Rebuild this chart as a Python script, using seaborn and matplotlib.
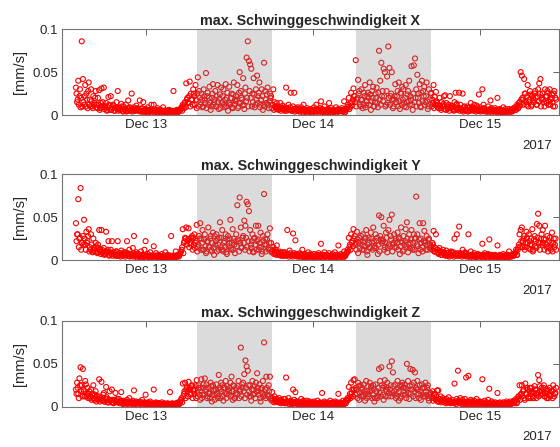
import matplotlib
matplotlib.use("Agg")
import matplotlib.pyplot as plt
import matplotlib.dates as mdates
import numpy as np
import pandas as pd
import seaborn as sns

# logger writes one max value every 5 minutes; rows below hold the
# samples at :00, :10, ... and the "mid" rows those at :05, :15, ...
start = "2017-12-12 14:00"
start_mid = "2017-12-12 14:05"
step = "10min"

# values in 0.001 mm/s, one row per hour, Dec 12 14h .. Dec 15 10h
vx_rows = [
    [32, 15, 40, 22, 9, 86], [42, 12, 35, 25, 8, 38], [18, 30, 10, 22, 14, 28],
    [12, 20, 29, 8, 31, 15], [32, 9, 14, 6, 21, 11], [22, 7, 12, 5, 9, 15],
    [28, 8, 6, 13, 5, 10], [7, 12, 5, 17, 8, 6], [25, 6, 9, 5, 11, 7],
    [6, 17, 5, 8, 15, 4],
    # Dec 13
    [7, 5, 9, 4, 6, 12], [5, 12, 6, 4, 8, 5], [4, 6, 5, 9, 4, 5],
    [5, 4, 6, 4, 5, 4], [28, 4, 5, 6, 4, 5], [6, 9, 12, 8, 15, 37],
    [20, 14, 39, 25, 18, 30], [22, 35, 8, 44, 28, 12], [25, 9, 30, 18, 49, 22],
    [12, 33, 6, 20, 36, 15], [28, 10, 35, 7, 24, 32], [15, 30, 9, 36, 20, 5],
    [33, 12, 25, 8, 38, 18], [22, 35, 10, 50, 28, 18], [43, 7, 32, 67, 86, 63],
    [59, 54, 25, 43, 9, 30], [46, 22, 38, 12, 30, 6], [61, 28, 14, 32, 8, 25],
    [22, 12, 30, 15, 9, 14], [10, 7, 14, 8, 11, 6], [9, 32, 7, 12, 6, 26],
    [6, 10, 26, 7, 5, 9], [7, 5, 9, 6, 12, 5], [5, 8, 6, 4, 7, 5],
    # Dec 14
    [6, 9, 5, 12, 7, 5], [8, 16, 7, 4, 10, 6], [5, 7, 14, 5, 8, 4],
    [6, 4, 9, 5, 7, 5], [5, 8, 6, 16, 4, 7], [12, 20, 9, 26, 15, 31],
    [22, 64, 18, 41, 28, 10], [30, 8, 26, 35, 12, 22], [20, 38, 6, 28, 33, 10],
    [25, 32, 9, 75, 40, 61], [28, 54, 50, 12, 45, 80], [55, 22, 50, 8, 18, 36],
    [15, 28, 38, 7, 25, 33], [30, 10, 35, 15, 28, 40], [22, 57, 6, 58, 66, 30],
    [47, 25, 36, 9, 40, 28], [33, 15, 38, 7, 30, 12], [26, 18, 35, 21, 27, 14],
    [12, 20, 8, 15, 11, 22], [23, 14, 7, 12, 22, 8], [10, 6, 15, 26, 13, 7],
    [26, 12, 6, 25, 9, 5], [7, 10, 5, 9, 14, 6], [8, 12, 6, 11, 5, 24],
    # Dec 15
    [9, 6, 30, 12, 7, 5], [6, 10, 5, 17, 8, 6], [5, 8, 6, 20, 4, 7],
    [6, 4, 9, 5, 7, 4], [5, 7, 4, 6, 5, 8], [9, 6, 12, 8, 15, 50],
    [46, 18, 42, 25, 12, 35], [15, 28, 10, 22, 18, 25], [20, 12, 30, 37, 42, 18],
    [25, 15, 30, 22, 28, 12], [30, 18, 24, 10, 28, 20],
]
vx_mid_rows = [
    [25, 18, 12, 30, 20, 10], [15, 22, 10, 18, 28, 12], [10, 16, 8, 12, 20, 9],
    [8, 12, 6, 14, 9, 11], [7, 10, 5, 9, 12, 6], [6, 9, 11, 5, 8, 7],
    [5, 8, 6, 10, 4, 7], [6, 4, 8, 5, 9, 5], [4, 7, 5, 6, 8, 5],
    [5, 4, 7, 5, 3, 6],
    # Dec 13
    [4, 6, 3, 5, 4, 5], [5, 3, 4, 6, 3, 4], [3, 5, 4, 3, 5, 4],
    [4, 3, 5, 4, 3, 5], [3, 5, 4, 3, 4, 6], [8, 5, 10, 14, 9, 18],
    [15, 22, 10, 18, 12, 25], [12, 18, 25, 10, 20, 15], [18, 10, 22, 14, 8, 26],
    [20, 14, 10, 25, 12, 18], [10, 22, 15, 19, 8, 14], [22, 12, 18, 10, 26, 14],
    [14, 20, 9, 24, 12, 16], [18, 8, 26, 14, 20, 11], [12, 25, 16, 20, 10, 28],
    [20, 10, 15, 24, 12, 18], [14, 26, 9, 18, 22, 12], [10, 18, 24, 12, 16, 20],
    [8, 12, 6, 10, 7, 9], [6, 9, 5, 7, 8, 5], [7, 5, 8, 6, 9, 5],
    [5, 7, 4, 8, 6, 5], [4, 6, 5, 3, 7, 4], [5, 3, 6, 4, 5, 3],
    # Dec 14
    [4, 6, 3, 5, 4, 6], [5, 3, 6, 4, 5, 3], [3, 6, 4, 5, 3, 6],
    [4, 5, 3, 6, 4, 5], [6, 4, 5, 3, 6, 9], [10, 7, 14, 11, 18, 22],
    [15, 10, 20, 25, 12, 18], [18, 12, 22, 9, 16, 26], [12, 24, 16, 20, 10, 15],
    [20, 14, 26, 18, 12, 22], [16, 22, 10, 28, 14, 20], [12, 25, 18, 10, 22, 15],
    [22, 10, 16, 26, 12, 18], [14, 20, 9, 24, 16, 12], [18, 12, 25, 15, 20, 10],
    [20, 14, 10, 26, 16, 22], [12, 22, 16, 10, 18, 25], [10, 14, 8, 12, 16, 9],
    [8, 11, 6, 10, 13, 7], [6, 10, 8, 5, 9, 11], [7, 5, 9, 12, 6, 8],
    [5, 8, 6, 4, 10, 6], [6, 4, 8, 5, 7, 9], [5, 7, 4, 9, 6, 5],
    # Dec 15
    [4, 7, 5, 8, 4, 6], [5, 3, 7, 4, 6, 5], [3, 5, 4, 6, 3, 4],
    [4, 3, 5, 3, 4, 5], [3, 4, 6, 4, 5, 7], [6, 10, 8, 14, 11, 18],
    [20, 12, 25, 15, 22, 10], [18, 24, 12, 20, 15, 28], [12, 22, 16, 25, 10, 20],
    [18, 10, 22, 14, 26, 16], [12, 20, 15, 25, 10, 18],
]

vy_rows = [
    [43, 30, 71, 25, 84, 20], [28, 47, 18, 33, 22, 36], [15, 30, 10, 25, 12, 20],
    [9, 18, 35, 12, 35, 8], [14, 7, 33, 10, 22, 6], [12, 22, 7, 9, 5, 10],
    [22, 6, 8, 11, 5, 7], [6, 9, 22, 5, 12, 7], [5, 14, 28, 6, 9, 5],
    [7, 5, 10, 4, 6, 12],
    # Dec 13
    [22, 5, 7, 4, 9, 5], [4, 16, 5, 8, 4, 6], [5, 4, 7, 3, 5, 9],
    [4, 6, 3, 5, 28, 4], [5, 3, 10, 4, 6, 5], [8, 12, 36, 20, 26, 38],
    [22, 37, 25, 18, 28, 26], [30, 20, 41, 15, 28, 43], [25, 35, 12, 30, 8, 22],
    [38, 15, 28, 10, 32, 6], [18, 30, 25, 12, 44, 26], [35, 10, 22, 30, 7, 28],
    [20, 47, 12, 36, 25, 8], [30, 64, 22, 73, 38, 15], [28, 46, 40, 68, 65, 57],
    [35, 18, 30, 9, 26, 40], [22, 40, 15, 32, 7, 28], [77, 25, 18, 30, 12, 37],
    [20, 10, 15, 8, 12, 17], [7, 10, 6, 9, 5, 8], [9, 6, 35, 7, 11, 5],
    [6, 31, 8, 23, 5, 7], [5, 8, 6, 12, 4, 7], [6, 4, 9, 5, 7, 4],
    # Dec 14
    [5, 7, 4, 6, 5, 8], [4, 19, 6, 5, 9, 4], [6, 5, 8, 4, 5, 7],
    [5, 9, 4, 6, 17, 5], [7, 4, 6, 10, 5, 8], [12, 26, 18, 30, 22, 36],
    [28, 20, 33, 8, 26, 22], [18, 30, 12, 25, 35, 6], [26, 15, 32, 20, 38, 14],
    [30, 22, 7, 52, 28, 50], [24, 40, 15, 32, 9, 35], [47, 28, 53, 18, 30, 22],
    [15, 32, 25, 7, 38, 20], [28, 18, 36, 44, 9, 30], [20, 35, 12, 30, 25, 74],
    [30, 8, 43, 25, 15, 43], [34, 22, 28, 12, 25, 18], [15, 20, 34, 10, 30, 12],
    [8, 14, 10, 6, 12, 9], [7, 11, 5, 9, 6, 10], [6, 9, 25, 7, 30, 5],
    [39, 8, 6, 12, 5, 9], [7, 5, 30, 6, 10, 4], [5, 8, 6, 4, 7, 5],
    # Dec 15
    [6, 4, 19, 5, 8, 4], [5, 7, 24, 4, 6, 5], [4, 6, 5, 17, 4, 6],
    [5, 4, 7, 5, 4, 6], [6, 10, 5, 4, 7, 5], [8, 12, 6, 15, 30, 35],
    [38, 22, 28, 15, 33, 20], [30, 18, 25, 36, 12, 28], [22, 42, 54, 40, 20, 30],
    [35, 25, 40, 18, 28, 15], [26, 12, 32, 20, 15, 25],
]
vy_mid_rows = [
    [22, 30, 15, 26, 12, 20], [18, 25, 12, 20, 28, 10], [12, 18, 9, 14, 10, 16],
    [8, 14, 10, 7, 12, 9], [6, 10, 8, 12, 5, 9], [7, 5, 9, 6, 10, 5],
    [5, 8, 4, 7, 6, 9], [4, 6, 8, 5, 4, 7], [6, 4, 5, 7, 3, 5],
    [4, 5, 3, 6, 4, 5],
    # Dec 13
    [3, 5, 4, 3, 5, 4], [4, 3, 5, 4, 3, 5], [3, 4, 3, 5, 4, 3],
    [4, 3, 4, 3, 5, 4], [3, 5, 4, 6, 4, 7], [10, 15, 8, 22, 25, 18],
    [24, 15, 20, 26, 12, 18], [14, 22, 10, 18, 25, 12], [20, 12, 24, 16, 10, 22],
    [15, 25, 12, 20, 14, 28], [22, 10, 18, 26, 15, 12], [12, 20, 15, 9, 24, 16],
    [25, 14, 20, 12, 18, 22], [16, 24, 10, 20, 14, 26], [20, 12, 26, 15, 22, 10],
    [14, 22, 10, 25, 18, 12], [24, 12, 20, 15, 10, 22], [18, 10, 24, 14, 20, 12],
    [9, 12, 7, 10, 6, 8], [6, 8, 5, 7, 9, 5], [5, 7, 6, 4, 8, 6],
    [4, 6, 5, 7, 4, 5], [5, 3, 6, 4, 5, 4], [3, 5, 4, 6, 3, 5],
    # Dec 14
    [4, 3, 5, 4, 6, 3], [5, 4, 3, 6, 4, 5], [3, 5, 4, 3, 5, 4],
    [4, 3, 6, 4, 3, 5], [5, 4, 3, 5, 7, 9], [10, 15, 12, 20, 16, 25],
    [18, 12, 24, 20, 14, 28], [12, 22, 16, 26, 10, 18], [20, 14, 25, 12, 22, 16],
    [14, 26, 18, 10, 24, 20], [22, 12, 20, 26, 14, 18], [16, 24, 10, 20, 15, 25],
    [20, 12, 26, 16, 22, 10], [12, 22, 15, 25, 18, 14], [24, 14, 20, 12, 26, 18],
    [16, 24, 12, 20, 10, 22], [20, 12, 18, 24, 14, 16], [12, 18, 10, 14, 9, 12],
    [7, 10, 6, 9, 8, 6], [5, 8, 6, 4, 7, 9], [6, 4, 7, 5, 8, 6],
    [5, 7, 4, 6, 5, 8], [4, 6, 5, 3, 6, 5], [6, 4, 3, 5, 4, 6],
    # Dec 15
    [4, 5, 3, 6, 4, 5], [3, 6, 4, 5, 3, 4], [5, 3, 4, 3, 5, 4],
    [4, 5, 3, 4, 3, 5], [3, 4, 5, 6, 5, 7], [9, 6, 12, 18, 15, 22],
    [15, 25, 12, 20, 26, 14], [22, 12, 18, 10, 24, 16], [14, 26, 20, 12, 25, 18],
    [20, 12, 24, 15, 10, 22], [14, 20, 10, 25, 18, 12],
]

vz_rows = [
    [20, 28, 15, 33, 46, 25], [44, 18, 30, 12, 22, 15], [10, 20, 14, 25, 8, 18],
    [12, 8, 32, 10, 29, 7], [16, 6, 23, 9, 5, 18], [7, 20, 5, 8, 16, 6],
    [5, 9, 6, 17, 4, 7], [6, 4, 8, 5, 10, 4], [5, 7, 19, 4, 6, 5],
    [4, 6, 3, 8, 4, 5],
    # Dec 13
    [14, 4, 5, 3, 6, 4], [3, 20, 4, 5, 3, 4], [4, 3, 5, 2, 4, 3],
    [3, 4, 2, 17, 3, 4], [2, 3, 4, 3, 5, 3], [6, 10, 27, 15, 28, 20],
    [18, 29, 22, 14, 25, 20], [15, 25, 31, 12, 22, 8], [32, 14, 26, 33, 20, 10],
    [22, 15, 28, 6, 25, 18], [14, 26, 10, 37, 20, 28], [25, 7, 22, 30, 15, 20],
    [18, 28, 35, 8, 24, 10], [22, 15, 30, 20, 69, 26], [28, 38, 54, 47, 42, 18],
    [25, 7, 30, 20, 15, 28], [39, 18, 26, 6, 22, 30], [75, 20, 35, 14, 25, 35],
    [10, 17, 8, 12, 6, 9], [7, 10, 5, 8, 6, 9], [9, 34, 6, 10, 5, 7],
    [5, 20, 8, 17, 6, 5], [6, 4, 9, 5, 7, 4], [5, 7, 4, 6, 3, 5],
    # Dec 14
    [4, 6, 5, 3, 7, 4], [5, 3, 16, 4, 6, 3], [4, 5, 3, 7, 4, 5],
    [3, 6, 4, 5, 15, 4], [5, 4, 7, 3, 6, 8], [10, 23, 15, 28, 20, 31],
    [32, 22, 15, 28, 8, 25], [20, 14, 26, 7, 30, 18], [15, 28, 22, 10, 25, 6],
    [26, 18, 12, 44, 30, 46], [22, 8, 31, 20, 28, 12], [47, 25, 53, 40, 18, 26],
    [20, 30, 7, 25, 12, 28], [18, 26, 22, 50, 30, 9], [44, 20, 43, 28, 40, 22],
    [30, 15, 25, 8, 26, 12], [22, 28, 14, 25, 7, 15], [12, 18, 10, 15, 8, 19],
    [19, 9, 12, 7, 10, 8], [6, 9, 5, 11, 7, 5], [8, 5, 27, 6, 9, 42],
    [7, 10, 5, 8, 6, 9], [34, 6, 36, 5, 8, 6], [5, 7, 4, 9, 5, 6],
    # Dec 15
    [6, 4, 32, 5, 7, 4], [5, 8, 21, 4, 6, 3], [4, 5, 3, 16, 4, 5],
    [3, 4, 5, 3, 4, 6], [4, 3, 6, 4, 5, 7], [6, 9, 5, 12, 25, 14],
    [25, 18, 10, 27, 15, 20], [12, 22, 15, 18, 10, 24], [20, 14, 37, 31, 18, 22],
    [15, 25, 12, 20, 18, 10], [22, 14, 18, 25, 12, 16],
]
vz_mid_rows = [
    [15, 22, 10, 25, 18, 12], [20, 12, 26, 15, 10, 18], [12, 8, 15, 10, 14, 6],
    [9, 12, 6, 10, 8, 14], [6, 9, 11, 5, 8, 7], [5, 8, 4, 7, 6, 9],
    [6, 4, 7, 5, 3, 6], [4, 5, 3, 6, 4, 5], [3, 5, 4, 3, 5, 4],
    [4, 3, 5, 2, 4, 3],
    # Dec 13
    [3, 2, 4, 3, 2, 3], [2, 3, 2, 4, 3, 2], [3, 2, 3, 2, 3, 2],
    [2, 3, 2, 3, 2, 3], [3, 2, 3, 4, 3, 5], [8, 5, 12, 18, 10, 22],
    [12, 20, 15, 24, 10, 18], [20, 10, 16, 25, 14, 22], [10, 22, 14, 18, 26, 12],
    [16, 10, 24, 14, 20, 8], [20, 15, 12, 22, 10, 18], [12, 22, 16, 10, 24, 14],
    [22, 12, 18, 25, 10, 16], [14, 24, 10, 18, 12, 22], [18, 10, 22, 14, 25, 12],
    [12, 20, 14, 24, 10, 18], [22, 14, 10, 20, 16, 12], [14, 10, 22, 12, 18, 9],
    [7, 10, 5, 8, 6, 7], [5, 7, 4, 6, 5, 4], [4, 6, 5, 3, 6, 4],
    [3, 5, 4, 6, 3, 4], [4, 3, 5, 3, 4, 2], [3, 4, 2, 3, 4, 3],
    # Dec 14
    [3, 2, 4, 3, 2, 4], [2, 4, 3, 2, 4, 3], [3, 2, 3, 4, 2, 3],
    [4, 3, 2, 3, 4, 2], [3, 4, 3, 5, 4, 7], [8, 12, 10, 16, 12, 20],
    [14, 20, 10, 24, 16, 12], [22, 12, 18, 15, 10, 24], [12, 18, 24, 14, 20, 10],
    [18, 10, 22, 16, 12, 25], [14, 24, 12, 18, 22, 16], [20, 12, 16, 24, 14, 10],
    [12, 22, 18, 10, 25, 14], [22, 14, 10, 20, 16, 24], [15, 25, 12, 18, 10, 20],
    [20, 10, 18, 14, 22, 12], [12, 18, 22, 10, 14, 16], [10, 7, 14, 9, 12, 6],
    [6, 9, 5, 8, 6, 7], [4, 7, 5, 6, 4, 6], [5, 4, 6, 3, 5, 7],
    [4, 6, 3, 5, 4, 3], [5, 3, 4, 6, 3, 4], [3, 4, 5, 3, 4, 3],
    # Dec 15
    [2, 4, 3, 4, 2, 3], [3, 2, 4, 3, 2, 4], [2, 3, 2, 4, 3, 2],
    [3, 2, 3, 2, 3, 4], [2, 4, 3, 4, 5, 4], [7, 4, 9, 12, 8, 15],
    [12, 20, 8, 15, 22, 10], [18, 10, 22, 12, 16, 20], [10, 16, 12, 24, 14, 18],
    [22, 12, 16, 10, 20, 14], [12, 18, 10, 20, 15, 22],
]

titles = ["max. Schwinggeschwindigkeit X",
          "max. Schwinggeschwindigkeit Y",
          "max. Schwinggeschwindigkeit Z"]

# working hours (gray bands)
shade_start = ["2017-12-13 07:20", "2017-12-14 06:10"]
shade_end = ["2017-12-13 18:10", "2017-12-14 17:00"]

x_min = "2017-12-12 12:00"
x_max = "2017-12-15 11:20"
day_ticks = ["2017-12-13", "2017-12-14", "2017-12-15"]
y_ticks = [0, 0.05, 0.1]
y_ticklabels = ["0", "0.05", "0.1"]


def make_frame(rows, mid_rows):
    vals = np.concatenate([np.array(r) for r in rows]) / 1000.0
    mid = np.concatenate([np.array(r) for r in mid_rows]) / 1000.0
    t = pd.date_range(start, periods=len(vals), freq=step)
    t_mid = pd.date_range(start_mid, periods=len(mid), freq=step)
    df = pd.DataFrame({"time": np.concatenate([t, t_mid]),
                       "value": np.concatenate([vals, mid])})
    return df.sort_values("time")


sns.set_theme(style="white")
plt.rcParams["font.family"] = ["Liberation Sans", "DejaVu Sans"]

fig = plt.figure(figsize=(5.6, 4.47), dpi=100)
bottoms = [0.7427, 0.4183, 0.0902]
series = [(vx_rows, vx_mid_rows), (vy_rows, vy_mid_rows), (vz_rows, vz_mid_rows)]

for (rows, mid_rows), title, bottom in zip(series, titles, bottoms):
    df = make_frame(rows, mid_rows)

    ax = fig.add_axes([0.1107, bottom, 0.8875, 0.1917])
    sns.scatterplot(data=df, x="time", y="value", ax=ax, marker="o", s=13,
                    facecolor="none", edgecolor="red", linewidth=0.8,
                    zorder=2, legend=False)
    for s0, s1 in zip(shade_start, shade_end):
        ax.axvspan(pd.Timestamp(s0), pd.Timestamp(s1), ymin=0, ymax=1,
                   color=(0.5, 0.5, 0.5), alpha=0.28, lw=0, zorder=3)

    ax.set_xlim(pd.Timestamp(x_min), pd.Timestamp(x_max))
    ax.set_ylim(0, 0.1)
    ax.set_xticks([pd.Timestamp(d) for d in day_ticks])
    ax.xaxis.set_major_formatter(mdates.DateFormatter("%b %d"))
    ax.set_yticks(y_ticks)
    ax.set_yticklabels(y_ticklabels)
    ax.tick_params(direction="in", top=True, right=True, length=4, width=0.6,
                   color="0.3", labelsize=9.5, labelcolor="0.15", pad=3)
    for sp in ax.spines.values():
        sp.set_color("0.45")
        sp.set_linewidth(0.8)
        sp.set_zorder(4)
    ax.set_xlabel("")
    ax.set_ylabel("[mm/s]", fontsize=10.5, color="0.15", labelpad=4)
    ax.set_title(title, fontsize=10.3, fontweight="bold", pad=3)
    ax.annotate("2017", xy=(1, 0), xycoords="axes fraction",
                xytext=(-5, -22), textcoords="offset points",
                ha="right", va="center", fontsize=9.5, color="0.15")

fig.savefig("out.png", dpi=100)
